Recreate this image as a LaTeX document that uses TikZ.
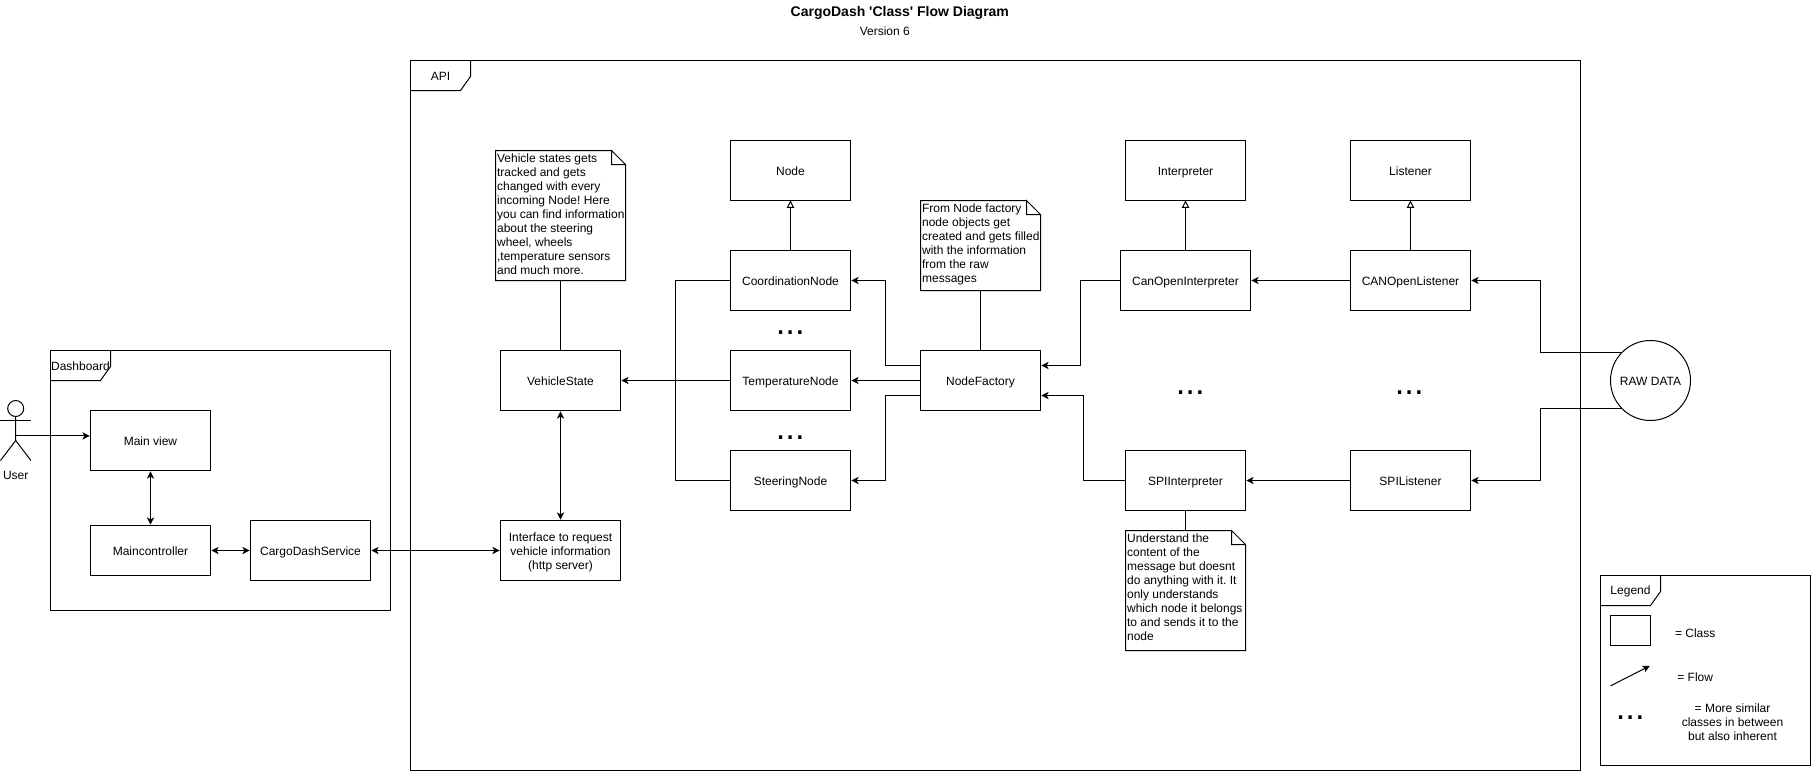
\documentclass[tikz,border=0pt]{standalone}
\usepackage{fontspec}
\setmainfont{Liberation Sans}
\frenchspacing
\usetikzlibrary{arrows.meta}
\tikzstyle{plain} = [line width=0.75pt]
\tikzstyle{flow} = [line width=0.75pt,-{Stealth[length=5.5pt,width=5.5pt,inset=1.5pt]},shorten >=0.6pt]
\tikzstyle{bothflow} = [line width=0.75pt,{Stealth[length=5.5pt,width=5.5pt,inset=1.5pt]}-{Stealth[length=5.5pt,width=5.5pt,inset=1.5pt]},shorten >=0.6pt,shorten <=0.6pt]
\tikzstyle{inherit} = [line width=0.75pt,-{Triangle[open,length=5.5pt,width=5.5pt]}]
\tikzstyle{classbox} = [rectangle, draw=black, line width=0.75pt, anchor=north west, outer sep=0pt,
minimum width=90pt, minimum height=45pt, align=center, inner sep=0pt, text height=8pt, text depth=0pt]
\tikzstyle{framebox} = [rectangle, draw=black, line width=0.75pt, anchor=north west, outer sep=0pt, inner sep=0pt]
\tikzstyle{notebox} = [rectangle, anchor=north west, outer sep=0pt, inner sep=0pt]
\tikzstyle{more} = [font=\fontsize{26pt}{26pt}\selectfont, inner sep=0pt]
\newcommand{\frametab}[2]{%
  \draw[plain] (#1.north west) ++(45pt,0pt) -- ++(0pt,-12pt) -- ++(-7.5pt,-10.5pt) -- ++(-37.5pt,0pt);
  \node at ([xshift=22.5pt,yshift=-12pt]#1.north west) {#2};}
\newcommand{\notefold}[1]{%
  \draw[plain] ([xshift=-10.5pt]#1.north east) -- (#1.north west) -- (#1.south west) -- (#1.south east)
    -- ([yshift=-10.5pt]#1.north east) -- ([xshift=-10.5pt]#1.north east)
    -- ([xshift=-10.5pt,yshift=-10.5pt]#1.north east) -- ([yshift=-10.5pt]#1.north east);}
\newcommand{\notetext}[3]{\parbox[c][#1][t]{#2}{\raggedright\vspace*{1.8pt}\hspace*{1.2pt}\begin{tabular}[t]{@{}l@{}}#3\end{tabular}}}
\begin{document}
\begin{tikzpicture}[x=0.75pt,y=-0.75pt,font=\fontsize{9pt}{10.5pt}\selectfont,every node/.append style={inner sep=0pt}]
  \useasboundingbox (-0.2,-0.2) rectangle (1810.8,770.8);
  % titles
  \node (title) at (899.6,12.5) {\fontsize{10.5pt}{12pt}\selectfont\bfseries CargoDash \textquotesingle Class\textquotesingle{} Flow Diagram};
  \node (version) at (884.6,31) {Version 6};
  % frames
  \node [framebox, minimum width=255pt, minimum height=195pt] (dashboard) at (50.3,350.3) {};
  \frametab{dashboard}{Dashboard}
  \node [framebox, minimum width=877.5pt, minimum height=532.5pt] (api) at (410.3,60.3) {};
  \frametab{api}{API}
  \node [framebox, minimum width=157.5pt, minimum height=142.5pt] (legend) at (1600.3,575.3) {};
  \frametab{legend}{Legend}
  % user
  \node [circle, draw=black, line width=0.75pt, minimum size=12pt, outer sep=0pt] (userhead) at (15.5,408.3) {};
  \coordinate (userhip) at (15.5,440.3);
  \coordinate (userhand) at (15.5,435.7);
  \draw[plain] (userhead.south) -- (userhip) -- (0.3,460.3);
  \draw[plain] (userhip) -- (30.7,460.3);
  \draw[plain] (0.3,420.3) -- (30.7,420.3);
  \node (user) at (15.5,474.8) {User};
  % dashboard classes
  \node [classbox] (mainview) at (90.3,410.3) {Main view};
  \node [classbox, minimum height=37.5pt] (maincontroller) at (90.3,525.3) {Maincontroller};
  \node [classbox] (service) at (250.3,520.3) {CargoDashService};
  % api classes
  \node [classbox] (vehiclestate) at (500.3,350.3) {VehicleState};
  \node [classbox, text height=29pt] (interface) at (500.3,520.3) {Interface to request\\vehicle information\\(http server)};
  \node [classbox] (node) at (730.3,140.3) {Node};
  \node [classbox] (coordination) at (730.3,250.3) {CoordinationNode};
  \node [classbox] (temperature) at (730.3,350.3) {TemperatureNode};
  \node [classbox] (steering) at (730.3,450.3) {SteeringNode};
  \node [classbox] (nodefactory) at (920.3,350.3) {NodeFactory};
  \node [classbox] (interpreter) at (1125.3,140.3) {Interpreter};
  \node [classbox, minimum width=97.5pt] (canopeninterp) at (1120.3,250.3) {CanOpenInterpreter};
  \node [classbox] (spiinterp) at (1125.3,450.3) {SPIInterpreter};
  \node [classbox] (listener) at (1350.3,140.3) {Listener};
  \node [classbox] (canopenlistener) at (1350.3,250.3) {CANOpenListener};
  \node [classbox] (spilistener) at (1350.3,450.3) {SPIListener};
  \node [circle, draw=black, line width=0.75pt, minimum size=60pt, outer sep=0pt, text height=8pt, text depth=0pt] (rawdata) at (1650.3,380.3) {RAW DATA};
  % notes
  \node [notebox] (statenote) at (495.3,150.3) {\notetext{97.5pt}{97.5pt}{Vehicle states gets\\tracked and gets\\changed with every\\incoming Node! Here\\you can find information\\about the steering\\wheel, wheels\\,temperature sensors\\and much more.}};
  \notefold{statenote}
  \node [notebox] (factorynote) at (920.3,200.3) {\notetext{67.5pt}{90pt}{From Node factory\\node objects get\\created and gets filled\\with the information\\from the raw\\messages}};
  \notefold{factorynote}
  \node [notebox] (spinote) at (1125.3,530.3) {\notetext{90pt}{90pt}{Understand the\\content of the\\message but doesnt\\do anything with it. It\\only understands\\which node it belongs\\to and sends it to the\\node}};
  \notefold{spinote}
  % more of the same
  \node [more] (moreone) at (790,332.5) {...};
  \node [more] (moretwo) at (790,437.5) {...};
  \node [more] (morethree) at (1190,392.5) {...};
  \node [more] (morefour) at (1409,392.5) {...};
  % legend
  \node [classbox, minimum width=30pt, minimum height=22.5pt] (legendclass) at (1610.3,615.3) {};
  \node (legendclasstext) at (1695,632.7) {= Class};
  \coordinate (legendfrom) at (1610.3,685.7);
  \coordinate (legendto) at (1650.3,665.3);
  \draw[flow] (legendfrom) -- (legendto);
  \node (legendflowtext) at (1695,677.3) {= Flow};
  \node [more] (legendmore) at (1630,717.5) {...};
  \node [align=center] (legendmoretext) at (1732.3,722) {= More similar\\classes in between\\but also inherent};
  % connectors
  \draw[flow] (userhand) -- (userhand -| mainview.west);
  \draw[bothflow] (mainview) -- (maincontroller);
  \draw[bothflow] (maincontroller) -- (service.west |- maincontroller);
  \draw[bothflow] (service) -- (interface);
  \draw[bothflow] (vehiclestate) -- (interface);
  \draw[plain] (statenote) -- (vehiclestate);
  \draw[plain] (coordination.west) -- ++(-55,0) |- (steering.west);
  \draw[flow] (temperature) -- (vehiclestate);
  \draw[flow] ([yshift=11.25pt]nodefactory.west) -- ++(-35,0) |- (coordination.east);
  \draw[flow] (nodefactory) -- (temperature);
  \draw[flow] ([yshift=-11.25pt]nodefactory.west) -- ++(-35,0) |- (steering.east);
  \draw[plain] (factorynote) -- (nodefactory);
  \draw[inherit] (coordination) -- (node);
  \draw[inherit] (canopeninterp) -- (interpreter);
  \draw[inherit] (canopenlistener) -- (listener);
  \draw[flow] (canopeninterp.west) -- ++(-40,0) |- ([yshift=11.25pt]nodefactory.east);
  \draw[flow] (spiinterp.west) -- ++(-42,0) |- ([yshift=-11.25pt]nodefactory.east);
  \draw[flow] (canopenlistener) -- (canopeninterp);
  \draw[flow] (spilistener) -- (spiinterp);
  \draw[plain] (spiinterp) -- (spinote);
  \draw[flow] (rawdata.135) -- ++(-82,0) |- (canopenlistener.east);
  \draw[flow] (rawdata.225) -- ++(-82,0) |- (spilistener.east);
\end{tikzpicture}
\end{document}
